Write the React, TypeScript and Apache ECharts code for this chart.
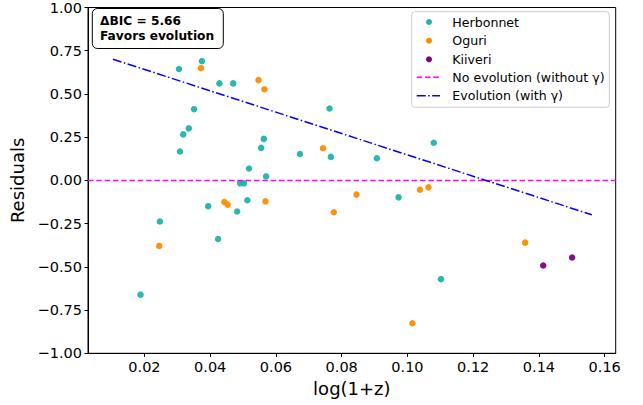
import React, { useEffect, useRef } from "react";
import * as echarts from "echarts";

const herbonnet: [number, number][] = [
  [0.0188, -0.661], [0.0247, -0.238], [0.0305, 0.644], [0.0308, 0.167],
  [0.0318, 0.266], [0.0335, 0.301], [0.0351, 0.412], [0.0375, 0.69],
  [0.0394, -0.149], [0.0424, -0.339], [0.0428, 0.561], [0.047, 0.561],
  [0.0482, -0.18], [0.0491, -0.017], [0.0503, -0.017], [0.0513, -0.115],
  [0.0518, 0.069], [0.0555, 0.188], [0.0563, 0.24], [0.057, 0.023],
  [0.0673, 0.153], [0.0763, 0.416], [0.0767, 0.136], [0.0907, 0.128],
  [0.0973, -0.098], [0.108, 0.218], [0.1102, -0.571],
];
const oguri: [number, number][] = [
  [0.0245, -0.379], [0.0372, 0.649], [0.0443, -0.125], [0.0453, -0.14],
  [0.0547, 0.58], [0.0565, 0.527], [0.0568, -0.121], [0.0743, 0.186],
  [0.0776, -0.184], [0.0845, -0.082], [0.1015, -0.826], [0.1038, -0.054],
  [0.1064, -0.04], [0.1358, -0.36],
];
const kiiveri: [number, number][] = [
  [0.1413, -0.492], [0.1501, -0.446],
];
const evolutionLine: [number, number][] = [
  [0.0104, 0.701], [0.1561, -0.199],
];
const xMin = 0.00283;
const xMax = 0.16335;
const noEvolutionLine: [number, number][] = [
  [xMin, 0], [xMax, 0],
];
const xTicks = [0.02, 0.04, 0.06, 0.08, 0.1, 0.12, 0.14, 0.16];
const seriesNames = ["Herbonnet", "Oguri", "Kiiveri", "No evolution (without γ)", "Evolution (with γ)"];
const annotationLines = ["ΔBIC = 5.66", "Favors evolution"];

const FONT = "DejaVu Sans";
const TEAL = "#20B2AA";
const ORANGE = "#FF8C00";
const PURPLE = "#800080";
const MAGENTA = "#FF00FF";
const BLUE = "#0000FF";

export default function App() {
  const ref = useRef<HTMLDivElement>(null);
  useEffect(() => {
    if (!ref.current) return;
    const chart = echarts.init(ref.current, undefined, { renderer: "svg" });
    const fmt = (v: number) => (v < 0 ? "\u2212" : "") + Math.abs(v).toFixed(2);

    const legendX = 411.7;
    const legendY = 11.7;
    const rowYs = [22, 40.7, 59.3, 77.3, 95.7];
    const markerColors = [TEAL, ORANGE, PURPLE];
    const legendEls: any[] = [
      {
        type: "rect",
        shape: { x: legendX, y: legendY, width: 197.6, height: 95.6, r: 3 },
        style: { fill: "rgba(255,255,255,0.8)", stroke: "#cccccc", lineWidth: 1 },
        z: 100,
      },
    ];
    seriesNames.forEach((name, i) => {
      const y = rowYs[i];
      if (i < 3) {
        legendEls.push({
          type: "circle",
          shape: { cx: 429, cy: y, r: 3 },
          style: { fill: markerColors[i] },
          z: 101,
        });
      } else {
        legendEls.push({
          type: "line",
          shape: { x1: 416.7, y1: y, x2: 440, y2: y },
          style: {
            stroke: i === 3 ? MAGENTA : BLUE,
            lineWidth: 1.5,
            lineDash: i === 3 ? [5.5, 2.8] : [9, 2.5, 1.5, 2.5],
          },
          z: 101,
        });
      }
      legendEls.push({
        type: "text",
        x: 452.3,
        y: y,
        style: {
          text: name,
          fontFamily: FONT,
          fontSize: 12.6,
          lineHeight: 15,
          fill: "#000",
          verticalAlign: "middle",
          align: "left",
        },
        z: 101,
      });
    });

    const annotEls: any[] = [
      {
        type: "rect",
        shape: { x: 92.3, y: 8.5, width: 131, height: 40, r: 5 },
        style: { fill: "#fff", stroke: "#000", lineWidth: 1 },
        z: 100,
      },
      ...annotationLines.map((t, i) => ({
        type: "text",
        x: 100,
        y: 21.3 + i * 14.4,
        style: {
          text: t,
          fontFamily: FONT,
          fontSize: 12.2,
          lineHeight: 14,
          fontWeight: "bold",
          fill: "#000",
          verticalAlign: "middle",
          align: "left",
        },
        z: 101,
      })),
    ];

    chart.setOption({
      animation: false,
      backgroundColor: "#fff",
      grid: {
        left: 88,
        right: 27.3,
        top: 5,
        bottom: 51.7,
        show: true,
        borderColor: "#000",
        borderWidth: 1,
        containLabel: false,
      },
      xAxis: {
        type: "value",
        min: xMin,
        max: xMax,
        name: "log(1+z)",
        nameLocation: "middle",
        nameGap: 22,
        nameTextStyle: { fontFamily: FONT, fontSize: 18, color: "#000" },
        axisLine: { show: true, onZero: false, lineStyle: { color: "#000", width: 1 } },
        axisTick: { show: true, length: 3.5, customValues: xTicks, lineStyle: { color: "#000" } },
        axisLabel: {
          customValues: xTicks,
          formatter: (v: number) => fmt(v),
          fontFamily: FONT,
          fontSize: 14.5,
          color: "#000",
          margin: 6,
        },
        splitLine: { show: false },
      },
      yAxis: {
        type: "value",
        min: -1,
        max: 1,
        interval: 0.25,
        name: "Residuals",
        nameLocation: "middle",
        nameGap: 58,
        nameTextStyle: { fontFamily: FONT, fontSize: 18, color: "#000" },
        axisLine: { show: true, onZero: false, lineStyle: { color: "#000", width: 1 } },
        axisTick: { show: true, length: 3.5, lineStyle: { color: "#000" } },
        axisLabel: {
          formatter: (v: number) => fmt(v),
          fontFamily: FONT,
          fontSize: 14.5,
          color: "#000",
          margin: 6,
        },
        splitLine: { show: false },
      },
      series: [
        {
          name: seriesNames[0],
          type: "scatter",
          data: herbonnet,
          symbolSize: 6.5,
          itemStyle: { color: TEAL, opacity: 0.95 },
        },
        {
          name: seriesNames[1],
          type: "scatter",
          data: oguri,
          symbolSize: 6.5,
          itemStyle: { color: ORANGE, opacity: 0.95 },
        },
        {
          name: seriesNames[2],
          type: "scatter",
          data: kiiveri,
          symbolSize: 6.5,
          itemStyle: { color: PURPLE, opacity: 0.95 },
        },
        {
          name: seriesNames[3],
          type: "line",
          data: noEvolutionLine,
          showSymbol: false,
          symbol: "none",
          lineStyle: { color: MAGENTA, width: 1.5, type: [5.5, 2.8] },
        },
        {
          name: seriesNames[4],
          type: "line",
          data: evolutionLine,
          showSymbol: false,
          symbol: "none",
          lineStyle: { color: BLUE, width: 1.5, type: [9, 2.5, 1.5, 2.5] },
        },
      ],
      graphic: [...annotEls, ...legendEls],
    });
    return () => chart.dispose();
  }, []);
  return (
    <div
      ref={ref}
      style={{ position: "fixed", left: 0, top: 0, width: 643, height: 405 }}
    />
  );
}
